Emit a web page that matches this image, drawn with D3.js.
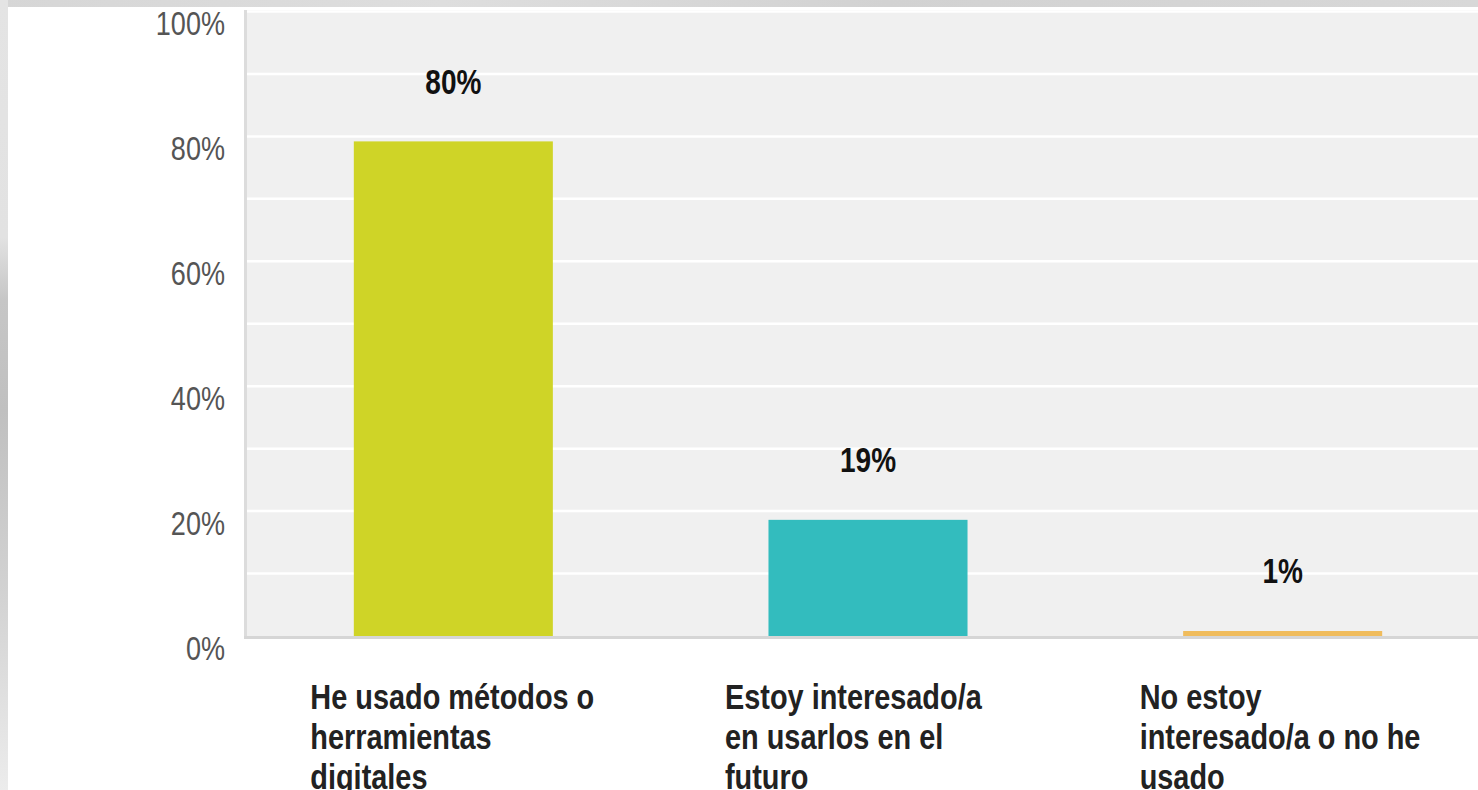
<!DOCTYPE html>
<html>
<head>
<meta charset="utf-8">
<script src="https://cdn.jsdelivr.net/npm/d3@7"></script>
<style>
  html, body { margin: 0; padding: 0; background: #d6d6d6; overflow: hidden; }
  svg { display: block; }
  text { font-family: "Liberation Sans", Arial, sans-serif; }
</style>
</head>
<body>
<svg id="chart" width="1478" height="790"></svg>
<script>
// ---- data ----
const categories = ["He usado métodos o herramientas digitales",
                    "Estoy interesado/a en usarlos en el futuro",
                    "No estoy interesado/a o no he usado"];
const categoryLines = [
  ["He usado métodos o", "herramientas", "digitales"],
  ["Estoy interesado/a", "en usarlos en el", "futuro"],
  ["No estoy", "interesado/a o no he", "usado"]
];
const values = [79.2, 18.6, 0.8];           // bar heights
const valueLabels = ["80%", "19%", "1%"];    // printed labels
const yTicks = [0, 20, 40, 60, 80, 100];
const gridTicks = [10, 20, 30, 40, 50, 60, 70, 80, 90, 100];
const colors = ["#cfd427", "#33bcbe", "#f0bc5c"];

// ---- drawing ----
const W = 1478, H = 790;
const svg = d3.select("#chart");
const defs = svg.append("defs");

const gTop = defs.append("linearGradient").attr("id", "topg").attr("x1", 0).attr("x2", 1).attr("y1", 0).attr("y2", 0);
[["0%", "#d6d6d6"], ["30%", "#dedede"], ["60%", "#d2d2d2"], ["100%", "#d8d8d8"]]
  .forEach(s => gTop.append("stop").attr("offset", s[0]).attr("stop-color", s[1]));
const gLeft = defs.append("linearGradient").attr("id", "leftg").attr("x1", 0).attr("x2", 0).attr("y1", 0).attr("y2", 1);
[["0%", "#e4e4e4"], ["30%", "#e2e2e2"], ["38%", "#c6c6c6"], ["52%", "#c0c0c0"], ["75%", "#d2d2d2"], ["100%", "#ececec"]]
  .forEach(s => gLeft.append("stop").attr("offset", s[0]).attr("stop-color", s[1]));

svg.append("rect").attr("x", 0).attr("y", 0).attr("width", W).attr("height", H).attr("fill", "url(#topg)");
svg.append("rect").attr("x", 0).attr("y", 0).attr("width", 8).attr("height", H).attr("fill", "url(#leftg)");
svg.append("rect").attr("x", 8).attr("y", 7).attr("width", W - 8).attr("height", H - 7).attr("fill", "#ffffff");

const x = d3.scaleBand().domain(categories).range([246, 1490]).paddingInner(0.52).paddingOuter(0.26);
const y = d3.scaleLinear().domain([0, 100]).range([636, 11.5]);

// plot background
svg.append("rect").attr("x", 247).attr("y", 10).attr("width", W - 247).attr("height", y(0) - 10).attr("fill", "#f0f0f0");

// gridlines
svg.append("g").selectAll("line").data(gridTicks).join("line")
  .attr("x1", 247).attr("x2", W)
  .attr("y1", d => y(d)).attr("y2", d => y(d))
  .attr("stroke", "#ffffff").attr("stroke-width", 2.5);

// left border & baseline
svg.append("line").attr("x1", 245.5).attr("x2", 245.5).attr("y1", 10).attr("y2", y(0) + 3)
  .attr("stroke", "#dcdcdc").attr("stroke-width", 3);
svg.append("line").attr("x1", 244).attr("x2", W).attr("y1", y(0) + 1.5).attr("y2", y(0) + 1.5)
  .attr("stroke", "#d6d6d6").attr("stroke-width", 3);

// y labels (narrowed)
svg.append("g").selectAll("text").data(yTicks).join("text")
  .attr("transform", d => `translate(225,${y(d) + 12}) scale(0.82,1)`)
  .attr("dy", "0.35em")
  .attr("text-anchor", "end").attr("font-size", 33).attr("fill", "#555")
  .text(d => d + "%");

// bars
svg.append("g").selectAll("rect").data(values).join("rect")
  .attr("x", (d, i) => x(categories[i]))
  .attr("width", x.bandwidth())
  .attr("y", d => y(d))
  .attr("height", d => y(0) - y(d))
  .attr("fill", (d, i) => colors[i]);

// value labels
svg.append("g").selectAll("text").data(values).join("text")
  .attr("transform", (d, i) => `translate(${x(categories[i]) + x.bandwidth() / 2},${y(d) - 60}) scale(0.8,1)`)
  .attr("dy", "0.35em")
  .attr("text-anchor", "middle").attr("font-size", 35).attr("font-weight", "bold").attr("fill", "#111")
  .text((d, i) => valueLabels[i]);

// category labels
const cat = svg.append("g").selectAll("text").data(categoryLines).join("text")
  .attr("font-size", 35).attr("font-weight", "bold").attr("fill", "#222")
  .attr("transform", (d, i) => `translate(${x(categories[i]) + x.bandwidth() / 2 - 143},697) scale(0.825,1)`);
cat.selectAll("tspan").data(d => d).join("tspan")
  .attr("x", 0).attr("y", (d, j) => j * 40).attr("dy", "0.35em")
  .text(d => d);
</script>
</body>
</html>
